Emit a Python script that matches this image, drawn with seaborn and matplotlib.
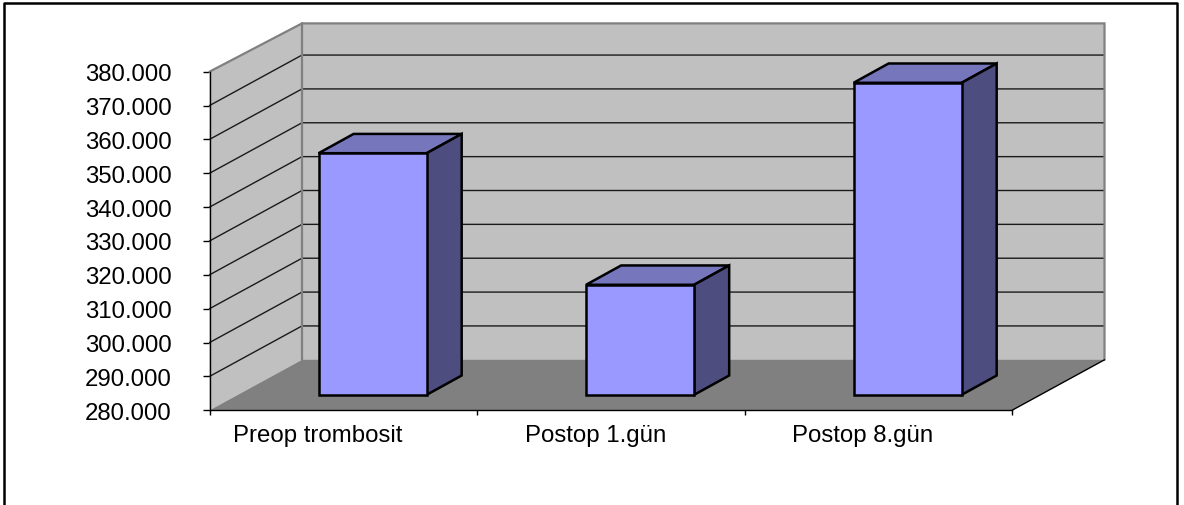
import matplotlib
matplotlib.use("Agg")
import matplotlib.pyplot as plt
import matplotlib.transforms as mtrans
from matplotlib.lines import Line2D
from matplotlib.patches import Polygon
import seaborn as sns

categories = ["Preop trombosit", "Postop 1.gün", "Postop 8.gün"]
platelets = [351350, 312500, 372150]
y_ticks = [280000, 290000, 300000, 310000, 320000, 330000, 340000, 350000, 360000, 370000, 380000]
y_tick_labels = ["280.000", "290.000", "300.000", "310.000", "320.000", "330.000",
                 "340.000", "350.000", "360.000", "370.000", "380.000"]

W, H = 1184, 506
FRONT = "#9999FF"
TOP = "#7676BD"
SIDE = "#4D4D80"
WALL = "#C0C0C0"
FLOOR = "#808080"
Y0, Y1 = y_ticks[0], y_ticks[-1]

sns.set_theme(style="white")
plt.rcParams["font.family"] = ["Liberation Sans", "DejaVu Sans"]

fig = plt.figure(figsize=(W / 100, H / 100), dpi=100, facecolor="white")


def axes_rect(left, bottom_y, right, top_y):
    return [left / W, (H - bottom_y) / H, (right - left) / W, (bottom_y - top_y) / H]


# Front plane of the box: carries the value axis and the category axis.
ax = fig.add_axes(axes_rect(209.5, 411.3, 1012, 72.7), facecolor="none")
ax.set_xlim(-0.5, 2.5)
ax.set_ylim(Y0, Y1)
px_x = 802.5 / 3
px_y = 338.6 / (Y1 - Y0)

# Depth of the box, in data units of the front plane.
box_dx = 92.5 / px_x
box_dy = 50.5 / px_y
wall_top = Y1 + box_dy - 2.2 / px_y


def back_y(v):
    return v + box_dy


xl, xr = -0.5, 2.5
ax.add_patch(Polygon([(xl, Y0), (xl + box_dx, back_y(Y0)), (xl + box_dx, wall_top), (xl, Y1)],
                     closed=True, fc=WALL, ec="none", clip_on=False, zorder=1))
ax.add_patch(Polygon([(xl + box_dx, back_y(Y0)), (xr + box_dx, back_y(Y0)),
                      (xr + box_dx, wall_top), (xl + box_dx, wall_top)],
                     closed=True, fc=WALL, ec="none", clip_on=False, zorder=1))

# Gridlines run along the side wall and across the back wall.
for v in y_ticks[1:-1]:
    ax.plot([xl, xl + box_dx, xr + box_dx], [v, back_y(v), back_y(v)],
            color="#1a1a1a", lw=1.0, clip_on=False, zorder=1.5, solid_joinstyle="miter")

# Grey outline of the back wall sits over the gridline ends.
ax.plot([xl, xl + box_dx, xr + box_dx, xr + box_dx], [Y1, wall_top, wall_top, back_y(Y0)],
        color=FLOOR, lw=1.6, clip_on=False, zorder=1.6, solid_joinstyle="miter")
ax.plot([xl + box_dx, xl + box_dx], [wall_top, back_y(Y0)],
        color=FLOOR, lw=1.6, clip_on=False, zorder=1.6)
ax.add_patch(Polygon([(xl, Y0), (xl + box_dx, back_y(Y0)), (xr + box_dx, back_y(Y0)), (xr, Y0)],
                     closed=True, fc=FLOOR, ec="none", clip_on=False, zorder=2))
ax.plot([xr, xr + box_dx], [Y0, back_y(Y0)], color="black", lw=1.0, clip_on=False, zorder=3)

# Value axis and category axis.
for name in ("top", "right"):
    ax.spines[name].set_visible(False)
for name in ("left", "bottom"):
    ax.spines[name].set_color("black")
    ax.spines[name].set_linewidth(1.0)
    ax.spines[name].set_zorder(4)
ax.set_yticks(y_ticks)
ax.set_yticklabels(y_tick_labels)
ax.tick_params(axis="y", which="major", left=True, length=5, width=1, color="black",
               labelsize=17.3, labelcolor="black", pad=22)
ax.set_xticks([-0.5, 0.5, 1.5, 2.5], minor=True)
ax.tick_params(axis="x", which="minor", bottom=True, length=3.6, width=1, color="black")
ax.set_xticks([0, 1, 2])
ax.set_xticklabels(categories)
ax.tick_params(axis="x", which="major", bottom=False, labelsize=17.3, labelcolor="black", pad=4)
label_shift = [-25.5, -15.5, -16]
for tick, dx in zip(ax.xaxis.get_major_ticks(), label_shift):
    tick.label1.set_transform(tick.label1.get_transform()
                              + mtrans.ScaledTranslation(dx / 100, 0, fig.dpi_scale_trans))
ax.grid(False)

# Bars stand on the floor, set back from the front plane.
bar_ax = fig.add_axes(axes_rect(209.5 + 29.4, 395.8, 1012 + 29.4, 395.8 - 338.6), facecolor="none")
sns.barplot(x=categories, y=platelets, ax=bar_ax, color=FRONT, saturation=1, width=0.404,
            edgecolor="black", linewidth=1.8, zorder=5)
bar_ax.set_xlim(-0.5, 2.5)
bar_ax.set_ylim(Y0, Y1)
bar_ax.axis("off")

bar_dx = 35.0 / px_x
bar_dy = 19.3 / px_y
for bar in list(bar_ax.patches):
    left, right, top = bar.get_x(), bar.get_x() + bar.get_width(), bar.get_height()
    bar.set_y(Y0)
    bar.set_height(top - Y0)
    bar.set_facecolor(FRONT)
    bar.set_clip_on(False)
    bar_ax.add_patch(Polygon([(left, top), (right, top), (right + bar_dx, top + bar_dy), (left + bar_dx, top + bar_dy)],
                             closed=True, fc=TOP, ec="black", lw=1.8, clip_on=False,
                             joinstyle="miter", zorder=4))
    bar_ax.add_patch(Polygon([(right, Y0), (right + bar_dx, Y0 + bar_dy), (right + bar_dx, top + bar_dy), (right, top)],
                             closed=True, fc=SIDE, ec="black", lw=1.8, clip_on=False,
                             joinstyle="miter", zorder=4))

# Frame around the chart area; it runs off the lower edge of the image.
frame_x = [3.5 / W, 3.5 / W, 1177 / W, 1177 / W]
frame_y = [0, (H - 3.6) / H, (H - 3.6) / H, 0]
fig.add_artist(Line2D(frame_x, frame_y, color="black", lw=1.8, transform=fig.transFigure))

fig.savefig("out.png", dpi=100)
